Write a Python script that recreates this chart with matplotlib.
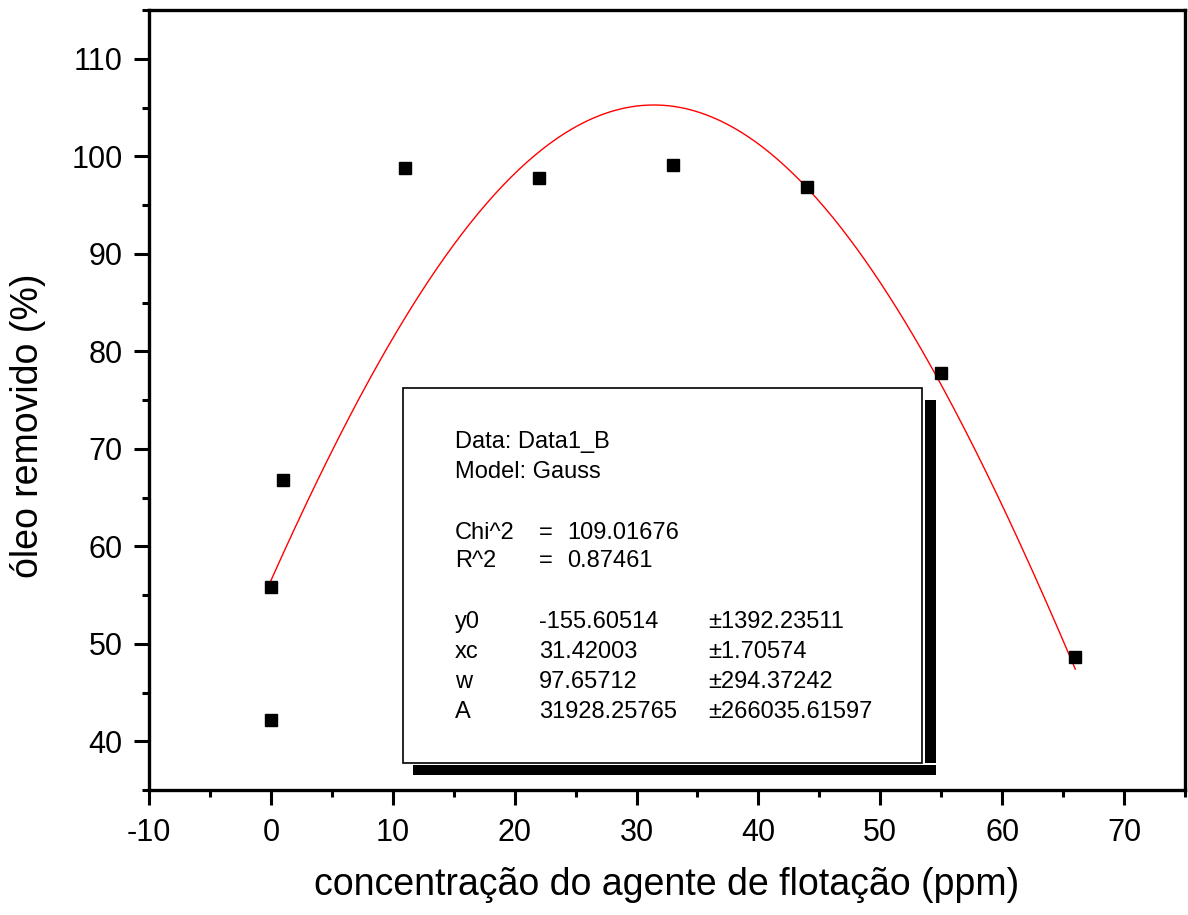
import numpy as np
import matplotlib.pyplot as plt
from matplotlib.patches import Rectangle
from matplotlib.ticker import MultipleLocator

plt.rcParams['font.family'] = ['Liberation Sans', 'DejaVu Sans']
plt.rcParams['axes.unicode_minus'] = False

# measured points
conc = [0, 0, 1, 11, 22, 33, 44, 55, 66]
removed = [42.2, 55.8, 66.8, 98.8, 97.8, 99.1, 96.8, 77.8, 48.6]

# Gauss fit parameters (from the fit report in the chart)
y0 = -155.60514
xc = 31.42003
w = 97.65712
A = 31928.25765
fit_range = (0, 66)

report_head = ["Data: Data1_B", "Model: Gauss"]
report_stats = [("Chi^2", "109.01676"), ("R^2", "0.87461")]
report_params = [("y0", "-155.60514", "\u00b11392.23511"),
                 ("xc", "31.42003", "\u00b11.70574"),
                 ("w", "97.65712", "\u00b1294.37242"),
                 ("A", "31928.25765", "\u00b1266035.61597")]

fig = plt.figure(figsize=(11.88, 9.15), dpi=100)
ax = fig.add_axes([149 / 1188, 1 - 790 / 915, 1036 / 1188, 780 / 915])

xs = np.linspace(fit_range[0], fit_range[1], 300)
ys = y0 + A / (w * np.sqrt(np.pi / 2)) * np.exp(-2 * ((xs - xc) / w) ** 2)
ax.plot(xs, ys, color="red", lw=1.0, zorder=2)
ax.plot(conc, removed, ls="none", marker="s", ms=8.5, color="black", zorder=3)

ax.set_xlim(-10, 75)
ax.set_ylim(35, 115)
ax.xaxis.set_major_locator(MultipleLocator(10))
ax.xaxis.set_minor_locator(MultipleLocator(5))
ax.yaxis.set_minor_locator(MultipleLocator(5))
ax.set_yticks([40, 50, 60, 70, 80, 90, 100, 110])
for s in ax.spines.values():
    s.set_linewidth(2.4)
ax.tick_params(which="major", direction="out", length=11, width=2.2, labelsize=22)
ax.tick_params(axis="x", which="major", pad=9)
ax.tick_params(axis="y", which="major", pad=8)
ax.tick_params(which="minor", direction="out", length=5, width=2.2)
ax.tick_params(top=False, right=False, which="both")

ax.set_xlabel("concentração do agente de flotação (ppm)", fontsize=27, va="center")
ax.set_ylabel("óleo removido (%)", fontsize=27, va="center")
ax.xaxis.set_label_coords(0.5, (790 - 885) / 780)
ax.yaxis.set_label_coords((28 - 149) / 1036, (790 - 426) / 780)

# fit report box with shadow (axes coords)
def px(x, y):
    return ((x - 149) / 1036, (790 - y) / 780)

bx0, by0 = px(403, 763)
bx1, by1 = px(922, 388)
ax.add_patch(Rectangle((bx0, by0), bx1 - bx0, by1 - by0, transform=ax.transAxes,
                       facecolor="white", edgecolor="black", lw=1.2, zorder=4))
sx0, sy0 = px(925, 763)
sx1, sy1 = px(936, 400)
ax.add_patch(Rectangle((sx0, sy0), sx1 - sx0, sy1 - sy0, transform=ax.transAxes,
                       facecolor="black", edgecolor="none", zorder=4))
hx0, hy0 = px(413, 775)
hx1, hy1 = px(936, 765)
ax.add_patch(Rectangle((hx0, hy0), hx1 - hx0, hy1 - hy0, transform=ax.transAxes,
                       facecolor="black", edgecolor="none", zorder=4))

fs = 17
for t, yy in zip(report_head, [442, 472]):
    ax.text(*px(455, yy), t, transform=ax.transAxes, fontsize=fs, va="center", zorder=5)
for (name, val), yy in zip(report_stats, [533, 561]):
    ax.text(*px(455, yy), name, transform=ax.transAxes, fontsize=fs, va="center", zorder=5)
    ax.text(*px(539, yy), "=", transform=ax.transAxes, fontsize=fs, va="center", zorder=5)
    ax.text(*px(567, yy), val, transform=ax.transAxes, fontsize=fs, va="center", zorder=5)
for (name, val, err), yy in zip(report_params, [622, 652, 682, 712]):
    ax.text(*px(455, yy), name, transform=ax.transAxes, fontsize=fs, va="center", zorder=5)
    ax.text(*px(539, yy), val, transform=ax.transAxes, fontsize=fs, va="center", zorder=5)
    ax.text(*px(708, yy), err, transform=ax.transAxes, fontsize=fs, va="center", zorder=5)

fig.savefig("out.png", dpi=100)
